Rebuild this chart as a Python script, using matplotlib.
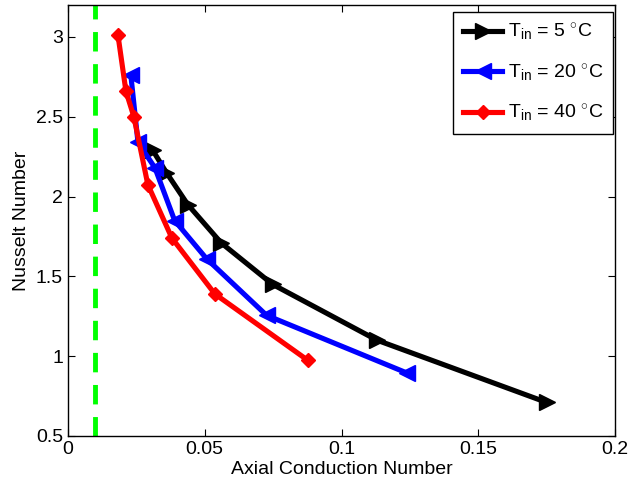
import matplotlib.pyplot as plt

plt.rcParams['font.family'] = ['Liberation Sans', 'DejaVu Sans']
plt.rcParams['mathtext.fontset'] = 'custom'
plt.rcParams['mathtext.rm'] = 'Liberation Sans'
plt.rcParams['mathtext.it'] = 'Liberation Sans'

# data
x_5 = [0.031, 0.036, 0.0438, 0.056, 0.0748, 0.113, 0.175]
y_5 = [2.29, 2.15, 1.95, 1.71, 1.45, 1.10, 0.71]
x_20 = [0.023, 0.0256, 0.0318, 0.039, 0.0507, 0.0726, 0.124]
y_20 = [2.76, 2.34, 2.18, 1.85, 1.61, 1.256, 0.894]
x_40 = [0.0183, 0.0212, 0.0241, 0.0292, 0.038, 0.0537, 0.0876]
y_40 = [3.01, 2.66, 2.50, 2.075, 1.74, 1.39, 0.975]
limit_x = 0.01

fig = plt.figure(figsize=(6.29, 4.88), dpi=100)
ax = fig.add_axes([0.108, 0.1066, 0.870, 0.883])

ax.axvline(limit_x, color=(0, 1, 0), lw=3.5, ls=(0, (4, 2.6)))
ax.plot(x_5, y_5, color='k', lw=3.7, marker='>', ms=11,
        label=r'T$_{\mathrm{in}}$ = 5 $^{\circ}$C')
ax.plot(x_20, y_20, color='b', lw=3.7, marker='<', ms=11,
        label=r'T$_{\mathrm{in}}$ = 20 $^{\circ}$C')
ax.plot(x_40, y_40, color='r', lw=3.7, marker='D', ms=7.5,
        label=r'T$_{\mathrm{in}}$ = 40 $^{\circ}$C')

ax.set_xlim(0, 0.2)
ax.set_ylim(0.5, 3.2)
ax.set_xticks([0, 0.05, 0.1, 0.15, 0.2])
ax.set_xticklabels(['0', '0.05', '0.1', '0.15', '0.2'])
ax.set_yticks([0.5, 1, 1.5, 2, 2.5, 3])
ax.set_yticklabels(['0.5', '1', '1.5', '2', '2.5', '3'])
ax.tick_params(direction='in', top=True, right=True, labelsize=14, length=5)
for s in ax.spines.values():
    s.set_linewidth(1)
ax.set_xlabel('Axial Conduction Number', fontsize=14, labelpad=2)
ax.set_ylabel('Nusselt Number', fontsize=14, labelpad=4)

leg = ax.legend(loc='upper right', bbox_to_anchor=(0.996, 0.984), fontsize=14,
                fancybox=False, edgecolor='k', framealpha=1,
                handlelength=2.0, borderpad=0.5, labelspacing=1.0,
                handletextpad=0.3, borderaxespad=0)
leg.get_frame().set_linewidth(1)

plt.savefig('out.png', dpi=100)
plt.close()
